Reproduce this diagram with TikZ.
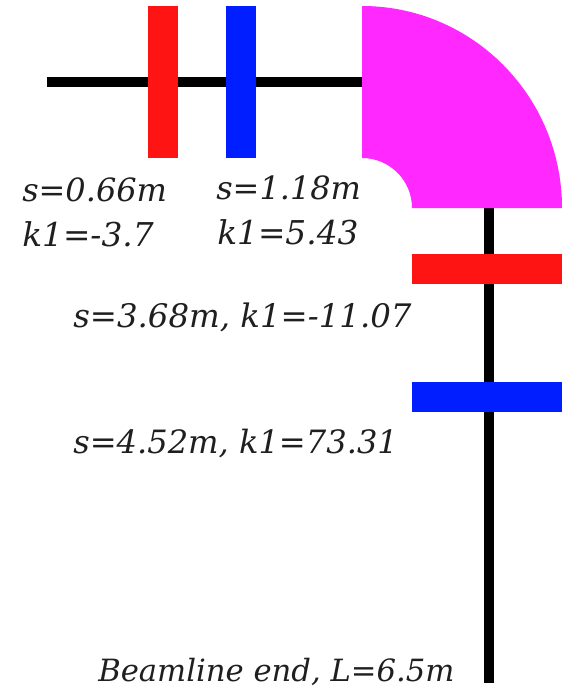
\documentclass[tikz,border=0pt]{standalone}
\usepackage{fontspec}
\setmainfont{DejaVu Serif}
\definecolor{magred}{RGB}{255,20,20}
\definecolor{magblue}{RGB}{0,30,255}
\definecolor{bendmag}{RGB}{255,40,255}
\tikzset{
  beam/.style={line width=7pt,black},
  lab/.style={inner sep=0pt,anchor=base west,font=\fontsize{#1}{#1}\selectfont\itshape,text=black!88},
  lab/.default=24
}
\begin{document}
\begin{tikzpicture}[x=0.75pt,y=-0.75pt]
\useasboundingbox (0,0) rectangle (562,688);
\coordinate (hstart) at (47,82);
\coordinate (hend) at (362,82);
\coordinate (vstart) at (489,208);
\coordinate (vend) at (489,683);
\draw[beam] (hstart) -- (hend);
\draw[beam] (vstart) -- (vend);
\node[fill=magred,minimum width=22.5pt,minimum height=114pt,inner sep=0pt] (qa) at (163,82) {};
\node[fill=magblue,minimum width=22.5pt,minimum height=114pt,inner sep=0pt] (qb) at (241,82) {};
\node[fill=magred,minimum width=112.5pt,minimum height=22.5pt,inner sep=0pt] (qc) at (487,269) {};
\node[fill=magblue,minimum width=112.5pt,minimum height=22.5pt,inner sep=0pt] (qd) at (487,397) {};
\fill[bendmag] (362,6) arc[start angle=90,end angle=0,x radius=150pt,y radius=151.5pt]
  -- (412,208) arc[start angle=0,end angle=90,x radius=37.5pt,y radius=37.5pt] -- cycle;
\node[lab] (t1) at (22,201) {s=0.66m};
\node[lab=24.6] (t2) at (22,246) {k1=-3.7};
\node[lab] (t3) at (216,199) {s=1.18m};
\node[lab=24.6] (t4) at (217,244) {k1=5.43};
\node[lab=24.3] (t5) at (73,327) {s=3.68m, k1=-11.07};
\node[lab=24.1] (t6) at (73,453) {s=4.52m, k1=73.31};
\node[lab=23] (t7) at (98,681) {Beamline end, L=6.5m};
\end{tikzpicture}
\end{document}
